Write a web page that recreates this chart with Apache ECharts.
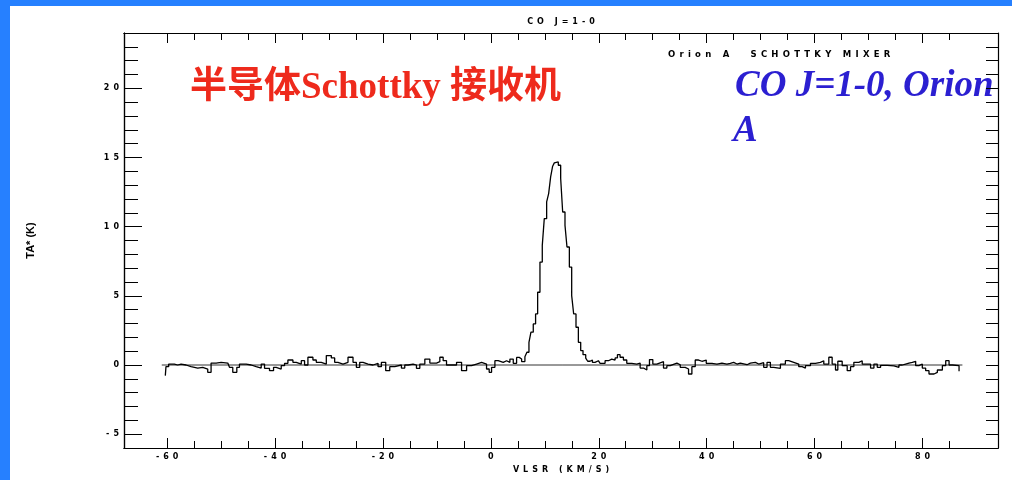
<!DOCTYPE html>
<html>
<head>
<meta charset="utf-8">
<script src="https://cdn.jsdelivr.net/npm/echarts@6/dist/echarts.min.js"></script>
<style>
html,body{margin:0;padding:0;background:#ffffff;}
#chart{width:1012px;height:480px;}
</style>
</head>
<body>
<div id="chart"></div>
<script>
// ---- data ----
// velocity: start of each visible step (km/s); ta: antenna temperature of that step (K)
const velocity = [
  -60.34,-60.22,-59.72,-58.67,-58.05,-57.43,-56.50,-55.57,-54.33,-53.41,
  -52.48,-51.86,-50.93,-50.00,-48.76,-48.45,-47.84,-47.09,-46.60,-45.36,
  -44.43,-43.50,-42.57,-41.95,-41.03,-40.28,-39.79,-38.86,-38.24,-37.62,
  -36.69,-36.07,-35.14,-34.53,-33.91,-32.98,-32.36,-31.43,-30.50,-29.57,
  -28.95,-28.34,-27.41,-26.48,-25.55,-24.93,-24.31,-23.69,-22.76,-21.84,
  -20.91,-20.29,-19.49,-18.74,-17.81,-16.58,-15.96,-15.34,-14.41,-13.79,
  -13.17,-12.24,-11.31,-10.07,-9.46,-8.84,-8.22,-6.36,-5.43,-4.50,
  -3.58,-2.65,-1.72,-1.42,-0.80,-0.31,0.13,0.75,1.36,2.29,
  2.91,3.53,4.15,4.77,5.26,5.70,6.31,6.68,7.06,7.43,
  7.86,8.29,8.67,9.10,9.53,9.90,10.34,10.71,11.08,11.45,
  11.76,12.13,12.50,12.94,13.31,13.74,14.11,14.55,14.98,15.35,
  15.78,16.22,16.65,17.08,17.58,17.95,18.38,18.82,19.31,19.93,
  20.24,21.17,21.79,22.41,23.03,23.46,23.95,24.57,25.19,26.12,
  27.05,27.67,28.29,28.91,29.40,30.02,30.76,31.26,32.00,32.62,
  33.24,33.98,34.48,35.10,36.02,36.64,37.26,37.88,38.50,39.12,
  39.92,40.98,41.91,42.83,43.76,44.38,45.00,45.62,46.24,47.48,
  48.10,49.02,49.64,50.57,51.19,51.81,52.43,53.67,54.59,55.21,
  56.14,57.07,57.69,58.31,59.24,60.17,61.09,61.71,62.64,63.26,
  63.88,64.31,65.12,66.05,66.67,67.28,68.21,68.83,70.38,71.00,
  71.62,72.24,73.47,74.71,75.64,76.26,76.88,77.50,78.12,78.74,
  79.35,79.97,80.59,81.21,82.14,82.76,83.69,84.31,84.93,85.55,
  86.78
];
const ta = [
  -0.77,-0.12,0.07,0.00,0.07,0.00,-0.12,-0.22,-0.17,-0.29,
  -0.53,0.14,0.19,0.14,0.00,-0.17,-0.53,-0.17,0.07,0.00,
  -0.12,-0.22,0.07,-0.24,-0.41,-0.17,-0.29,-0.05,0.12,0.36,
  0.19,0.07,0.31,0.00,0.56,0.36,0.19,0.07,0.68,0.51,
  0.19,0.07,0.19,0.56,0.19,-0.17,0.19,0.07,0.00,0.12,
  -0.12,0.19,-0.41,-0.12,0.00,-0.22,0.00,0.07,0.00,-0.24,
  0.07,0.43,0.14,0.24,0.56,0.31,0.00,0.19,-0.41,-0.05,
  0.07,0.19,0.27,0.07,-0.29,-0.53,-0.17,0.31,0.19,0.31,
  0.19,0.43,0.12,0.55,0.43,0.25,0.60,0.92,1.64,2.37,
  2.97,3.69,5.26,7.44,8.65,10.58,11.79,12.39,13.60,14.37,
  14.61,14.68,14.44,13.48,11.06,10.09,8.53,7.08,5.02,3.69,
  2.73,1.64,1.04,0.75,0.50,0.27,0.36,0.19,0.31,0.22,
  0.12,0.31,0.43,0.36,0.51,0.75,0.56,0.36,0.12,0.07,
  0.14,-0.22,-0.36,-0.05,0.39,0.07,0.14,0.24,-0.22,-0.05,
  0.07,0.14,0.02,-0.17,-0.29,-0.65,-0.12,0.36,0.27,0.36,
  0.12,0.07,0.14,0.07,0.12,0.19,0.07,0.14,0.02,0.14,
  0.19,0.07,0.17,-0.17,0.19,-0.17,-0.24,0.07,0.31,0.19,
  0.07,-0.12,-0.22,-0.05,0.12,0.19,0.31,0.07,0.56,0.07,
  -0.36,0.27,-0.05,-0.41,-0.12,0.19,0.31,0.07,-0.22,0.07,
  -0.17,-0.02,-0.07,-0.17,0.00,0.07,0.14,0.19,0.27,-0.05,
  0.07,-0.22,-0.41,-0.65,-0.53,-0.36,-0.05,0.31,0.00,-0.05,
  -0.45
];
const baselineVelocity = [-61.0, 87.4];
const baselineLevel = [0, 0];

// ---- axes / tick labels ----
const xMajorTicks = [-60,-40,-20,0,20,40,60,80];
const xMinorTicks = [-60,-55,-50,-45,-40,-35,-30,-25,-20,-15,-10,-5,0,5,10,15,20,25,30,35,40,45,50,55,60,65,70,75,80,85];
const yMajorTicks = [-5,0,5,10,15,20];
const yMinorTicks = [-5,-4,-3,-2,-1,0,1,2,3,4,5,6,7,8,9,10,11,12,13,14,15,16,17,18,19,20,21,22,23];
const xRange = [-68, 94];
const yRange = [-6, 24];

// ---- texts ----
const plotTitle = 'CO J=1-0';
const instrumentLabel = ['Orion A', 'SCHOTTKY MIXER'];
const xAxisTitle = 'VLSR (KM/S)';
const yAxisTitle = 'TA* (K)';
const redCaption = '半导体Schottky 接收机';
const blueCaption = ['CO J=1-0, Orion', 'A'];

const SP = '\u2002';
function spaced(s) { return Array.from(s).join(SP); }

const smallFont = { fontFamily: 'DejaVu Sans', fontWeight: 'bold', fontSize: 8, color: '#000' };
const axisLineStyle = { show: true, onZero: false, lineStyle: { color: '#000', width: 1.2 } };

function xAx(position, ticks, len, withLabels, name) {
  const a = {
    type: 'value', position: position, min: xRange[0], max: xRange[1],
    axisLine: axisLineStyle,
    axisTick: { show: true, inside: true, length: len, customValues: ticks, lineStyle: { color: '#000', width: 1 } },
    axisLabel: withLabels ? Object.assign({ show: true, margin: 5, customValues: ticks, formatter: v => spaced(String(v)) }, smallFont) : { show: false },
    splitLine: { show: false }
  };
  if (name) {
    a.name = spaced(name);
    a.nameLocation = 'middle';
    a.nameGap = position === 'top' ? 7 : 17;
    a.nameTextStyle = Object.assign({}, smallFont);
  }
  return a;
}
function yAx(position, ticks, len, withLabels, name) {
  const a = {
    type: 'value', position: position, min: yRange[0], max: yRange[1],
    axisLine: axisLineStyle,
    axisTick: { show: true, inside: true, length: len, customValues: ticks, lineStyle: { color: '#000', width: 1 } },
    axisLabel: withLabels ? Object.assign({ show: true, margin: 5, customValues: ticks, formatter: v => spaced(String(v)) }, smallFont) : { show: false },
    splitLine: { show: false }
  };
  if (name) {
    a.name = name;
    a.nameLocation = 'middle';
    a.nameGap = 88;
    a.nameRotate = 90;
    a.nameTextStyle = { fontFamily: 'Liberation Sans', fontWeight: 'bold', fontSize: 11, color: '#000' };
  }
  return a;
}

const chart = echarts.init(document.getElementById('chart'), null, { renderer: 'canvas' });
chart.setOption({
  animation: false,
  backgroundColor: '#ffffff',
  grid: { left: 124, right: 14, top: 33, bottom: 32 },
  xAxis: [
    xAx('bottom', xMajorTicks, 10, true, xAxisTitle),
    xAx('bottom', xMinorTicks, 7, false),
    xAx('top', xMajorTicks, 10, false, plotTitle),
    xAx('top', xMinorTicks, 7, false)
  ],
  yAxis: [
    yAx('left', yMajorTicks, 18, true, yAxisTitle),
    yAx('left', yMinorTicks, 14, false),
    yAx('right', yMinorTicks, 12, false)
  ],
  series: [
    {
      type: 'line', xAxisIndex: 0, yAxisIndex: 0, symbol: 'none', silent: true,
      data: baselineVelocity.map((v, i) => [v, baselineLevel[i]]),
      lineStyle: { color: '#333', width: 1 }
    },
    {
      type: 'line', step: 'end', xAxisIndex: 0, yAxisIndex: 0, symbol: 'none', silent: true,
      data: velocity.map((v, i) => [v, ta[i]]),
      lineStyle: { color: '#000', width: 1.3 }
    }
  ],
  graphic: [
    { type: 'rect', shape: { x: 0, y: 0, width: 1012, height: 6 }, style: { fill: '#2680ff' }, silent: true },
    { type: 'rect', shape: { x: 0, y: 0, width: 10, height: 480 }, style: { fill: '#2680ff' }, silent: true },
    { type: 'text', x: 668, y: 54.5, silent: true,
      style: { text: spaced(instrumentLabel[0]) + '\u2003\u2003' + SP + spaced(instrumentLabel[1]),
               font: 'bold 8.5px "DejaVu Sans"', fill: '#000', textVerticalAlign: 'middle' } },
    { type: 'text', x: 190, y: 88, silent: true,
      style: { text: redCaption, font: 'bold 37px "Liberation Serif", "Noto Sans CJK SC"', fill: '#ee2a1c', textVerticalAlign: 'middle' } },
    { type: 'text', x: 735, y: 86, silent: true,
      style: { text: blueCaption[0], font: 'italic bold 37px "Liberation Serif"', fill: '#2b1fd1', textVerticalAlign: 'middle' } },
    { type: 'text', x: 733, y: 131, silent: true,
      style: { text: blueCaption[1], font: 'italic bold 37px "Liberation Serif"', fill: '#2b1fd1', textVerticalAlign: 'middle' } }
  ]
});
</script>
</body>
</html>
